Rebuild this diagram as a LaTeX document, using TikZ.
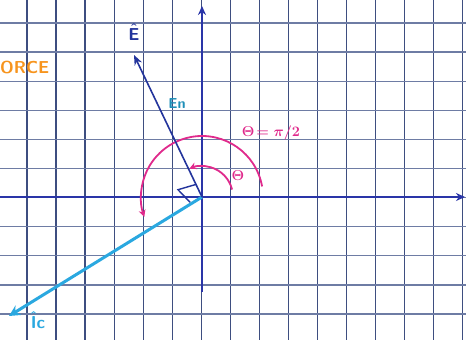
\documentclass[tikz,border=0pt]{standalone}
\usepackage{fontspec}
\usetikzlibrary{arrows.meta}
\definecolor{gridc}{HTML}{3E4E80}
\definecolor{gridh}{HTML}{6E7CA4}
\definecolor{axisc}{HTML}{2A35A8}
\definecolor{evec}{HTML}{23349C}
\definecolor{icol}{HTML}{2AA8E0}
\definecolor{pinkc}{HTML}{E02A8C}
\definecolor{tealc}{HTML}{1E8FB8}
\definecolor{orangec}{HTML}{F7941D}
\tikzset{
  gridv/.style={gridc, line width=1.3pt},
  gridhl/.style={gridh, line width=1.3pt},
  axisline/.style={axisc, line width=1.6pt, -{Stealth[length=9pt,width=8pt]}},
  evecline/.style={evec, line width=1.6pt, -{Stealth[length=10pt,width=8pt]}},
  ivecline/.style={icol, line width=3pt, -{Stealth[length=11pt,width=11pt]}},
  arcline/.style={pinkc, line width=1.8pt, -{Stealth[length=7pt,width=7pt]}},
  lbl/.style={font=\sffamily\bfseries, inner sep=0pt},
}
\begin{document}
\begin{tikzpicture}[x=1pt,y=1pt]
\useasboundingbox (0,-340) rectangle (466,0);
\fill[white] (0,-340) rectangle (466,0);
% grid
\foreach \i in {0,...,15} \draw[gridv] ({27+29.05*\i},0) -- ++(0,-340);
\foreach \j in {0,...,10} \draw[gridhl] (0,{-23-29.1*\j}) -- ++(466,0);
% points
\coordinate (O) at (202,-197);
\coordinate (xl) at (0,-197);
\coordinate (xr) at (465,-197);
\coordinate (yb) at (202,-292);
\coordinate (yt) at (202,-6);
\coordinate (Etip) at (134,-55);
\coordinate (Itip) at (9,-316);
% axes
\draw[axisline] (xl) -- (xr);
\draw[axisline] (yb) -- (yt);
% angle arcs
\draw[arcline, shift={(O)}] (10:61) arc[start angle=10, end angle=199, radius=61];
\draw[arcline, shift={(O)}] (14:31) arc[start angle=14, end angle=114, radius=31];
% vectors
\draw[ivecline] (O) -- (Itip);
\draw[evecline] (O) -- (Etip);
% right angle mark
\draw[evec, line width=1.4pt] (196,-184.4) -- (178,-189.7) -- (190.1,-202.3);
% labels
\node[lbl, evec, font=\sffamily\bfseries\LARGE\boldmath] (lE) at (134,-32) {$\hat{\mathsf{E}}$};
\node[lbl, tealc, font=\sffamily\bfseries\Large] (lEn) at (177,-104) {En};
\node[lbl, pinkc, font=\sffamily\bfseries\Large\boldmath] (lth) at (238,-176) {$\Theta$};
\node[lbl, pinkc, font=\sffamily\bfseries\Large\boldmath] (lth2) at (271,-133) {$\Theta\!=\pi/2$};
\node[lbl, icol, font=\sffamily\bfseries\LARGE\boldmath] (lI) at (38,-320) {$\hat{\mathsf{I}}\mathsf{c}$};
\node[lbl, orangec, font=\sffamily\bfseries\LARGE, anchor=west] (lF) at (0,-68) {ORCE};
\end{tikzpicture}
\end{document}
